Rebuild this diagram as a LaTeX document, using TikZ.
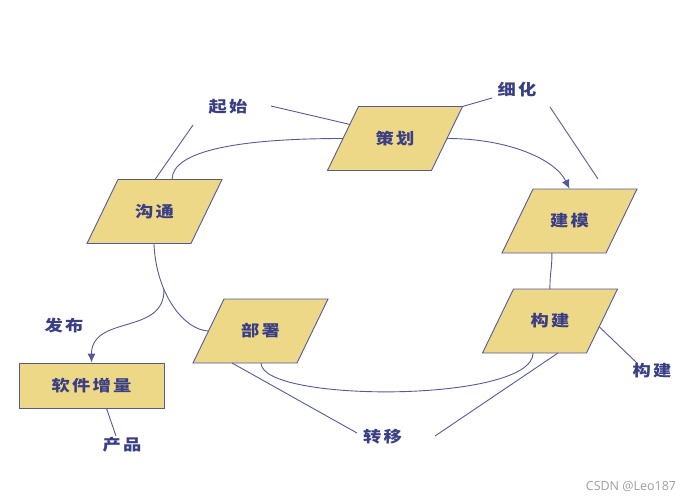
\documentclass[tikz,border=0pt]{standalone}
\usepackage{fontspec}
\newfontfamily\cjk[LetterSpace=14,FakeStretch=1.18]{Noto Sans CJK SC}
\newfontfamily\wm{Open Sans}
\usetikzlibrary{calc,arrows.meta}
\definecolor{boxfill}{HTML}{EDD887}
\definecolor{edgeblue}{HTML}{545A9C}
\definecolor{textblue}{HTML}{3A3F85}
\tikzset{
  cjkfont/.style={font=\cjk\bfseries\fontsize{15.5}{18}\selectfont},
  parashape/.style={draw=edgeblue, fill=boxfill, line width=0.9pt, line join=miter},
  paratext/.style={rectangle, minimum width=104pt, minimum height=64pt,
    inner sep=0pt, text=textblue, cjkfont},
  rectbox/.style={rectangle, minimum width=145pt, minimum height=45pt,
    inner sep=0pt, draw=edgeblue, fill=boxfill, line width=0.9pt,
    text=textblue, cjkfont},
  lbl/.style={text=textblue, cjkfont, inner sep=0pt},
  conn/.style={draw=edgeblue, line width=0.9pt},
  arr/.style={conn, -{Latex[length=9pt,width=8pt]}}
}
\newcommand\mypara[3]{%
  \coordinate (#1-c) at (#2);
  \coordinate (#1-tl) at ($(#1-c)+(-36.5,-32)$);
  \coordinate (#1-tr) at ($(#1-c)+(67.5,-32)$);
  \coordinate (#1-br) at ($(#1-c)+(36.5,32)$);
  \coordinate (#1-bl) at ($(#1-c)+(-67.5,32)$);
  \draw[parashape] (#1-tl) -- (#1-tr) -- (#1-br) -- (#1-bl) -- cycle;
  \node[paratext] (#1) at (#1-c) {#3};}
\begin{document}
\begin{tikzpicture}[x=1pt,y=-1pt]
\useasboundingbox (0,0) rectangle (696,500);
% nodes
\mypara{ch}{395,138.5}{策划}
\mypara{gt}{154.5,211.5}{沟通}
\mypara{jm}{569.5,221}{建模}
\mypara{gj}{550,321}{构建}
\mypara{bs}{260.5,331}{部署}
\node[rectbox] (rj) at (91.5,385.5) {软件增量};
% labels
\node[lbl] (lqs) at (228,107) {起始};
\node[lbl] (lxh) at (517,89.5) {细化};
\node[lbl] (lgj) at (652,371) {构建};
\node[lbl] (lfb) at (64,326) {发布};
\node[lbl] (lcp) at (122,445) {产品};
\node[lbl] (lzy) at (382.5,436.5) {转移};
\node[text=gray!75, font=\wm\fontsize{12.5}{14}\selectfont, inner sep=0pt] (wmk) at (631,486.5) {CSDN @Leo187};
% free ends
\coordinate (q1) at (193,125);
\coordinate (q2) at (271,106);
\coordinate (x1) at (492,98);
\coordinate (x2a) at (550,107);
\coordinate (x2b) at (598,179);
\coordinate (g1) at (637,363);
\coordinate (z1) at (435,436);
\coordinate (z2) at (357,433);
\coordinate (p1) at (116,436);
% connectors
\draw[conn] ($(gt-tl)!0.356!(gt-tr)$) -- (q1);
\draw[conn] (q2) -- ($(ch-tl)!0.28!(ch-bl)$);
\draw[conn] ($(gt-tl)!0.52!(gt-tr)$) .. controls ($(gt-tl)!0.52!(gt-tr)+(0,-29)$) and ($(ch.west)+(-103,0)$) .. (ch.west);
\draw[arr] (ch.east) .. controls ($(ch.east)+(62,0)$) and ($(jm.north)+(-14,-29)$) .. (jm.north);
\draw[conn] (ch-tr) -- (x1);
\draw[conn] (x2a) -- (x2b);
\draw[conn] ($(jm-bl)!0.48!(jm-br)$) .. controls ($(jm-bl)!0.48!(jm-br)+(0,18)$) and ($(gj-tl)!0.35!(gj-tr)+(0,-18)$) .. ($(gj-tl)!0.35!(gj-tr)$);
\draw[conn] ($(gj-tr)!0.59!(gj-br)$) -- (g1);
\draw[conn] ($(gj-bl)!0.486!(gj-br)$) .. controls ($(gj-bl)!0.486!(gj-br)+(0,50)$) and ($(bs-bl)!0.654!(bs-br)+(0,40)$) .. ($(bs-bl)!0.654!(bs-br)$);
\draw[conn] ($(gj-bl)!0.726!(gj-br)$) -- (z1);
\draw[conn] ($(bs-bl)!0.375!(bs-br)$) -- (z2);
\draw[conn] ($(gt-bl)!0.644!(gt-br)$) .. controls ($(gt-bl)!0.644!(gt-br)+(2,51)$) and ($(bs.west)+(-24,-1)$) .. (bs.west) coordinate[pos=0.34] (br);
\draw[arr] (br) .. controls ($(br)+(1,46)$) and ($(rj.north)+(0,-48)$) .. (rj.north);
\draw[conn] ($(rj.south)+(15,0)$) -- (p1);
\end{tikzpicture}
\end{document}
